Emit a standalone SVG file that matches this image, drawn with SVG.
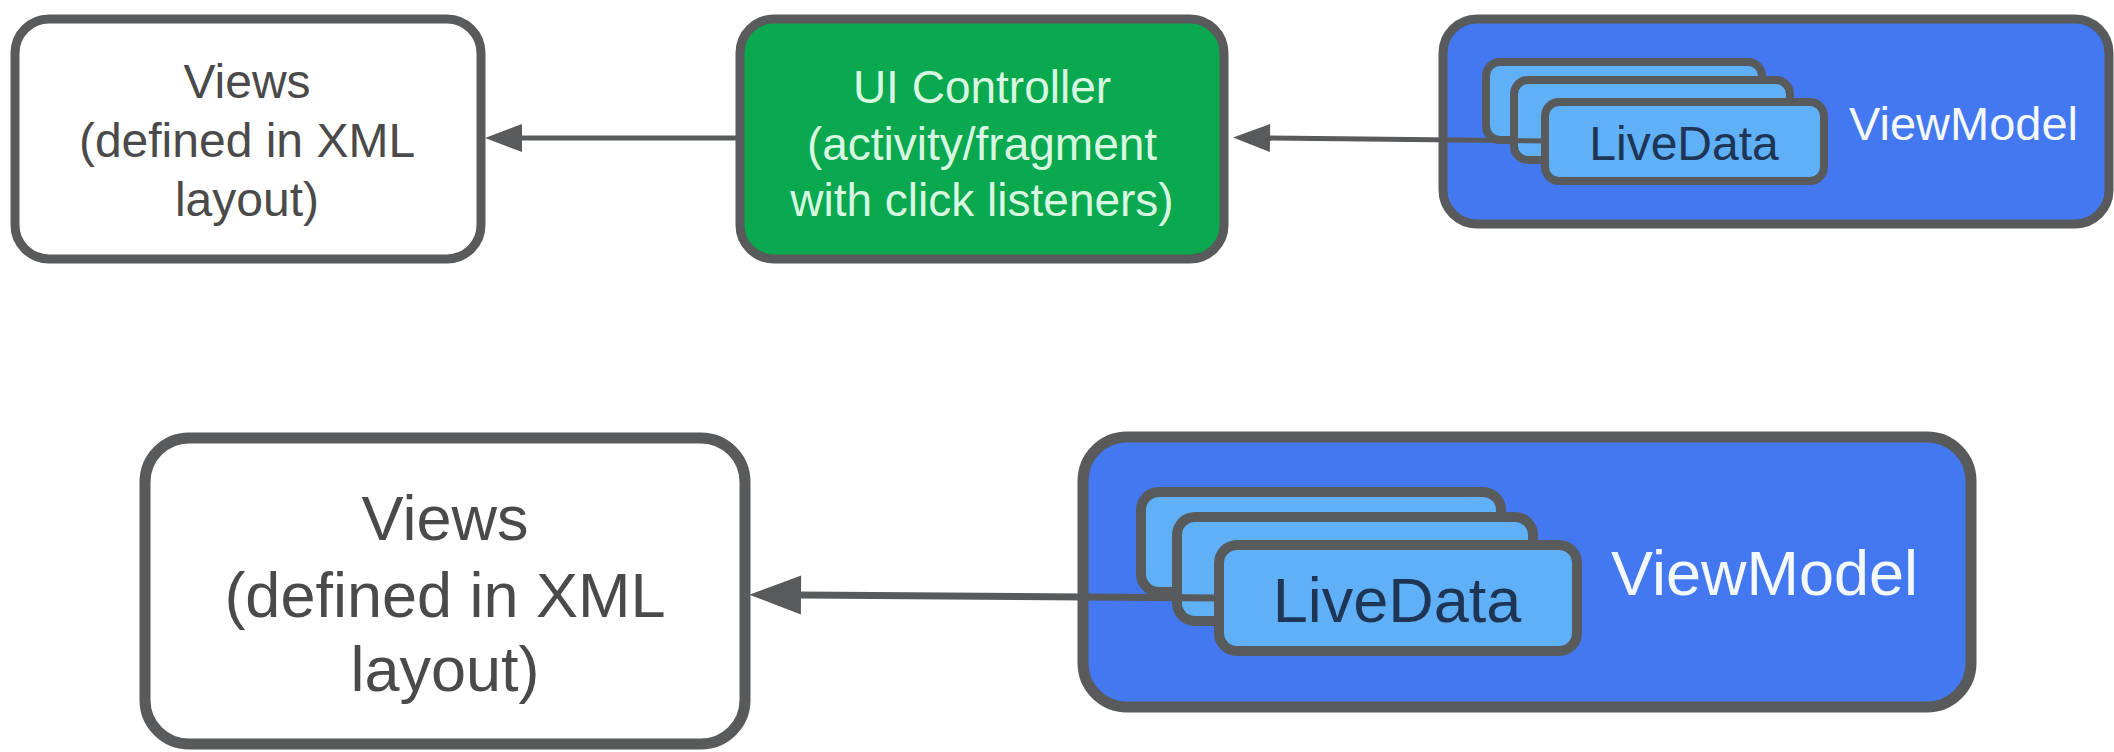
<svg xmlns="http://www.w3.org/2000/svg" width="2114" height="752" viewBox="0 0 2114 752">
  <defs>
    <style>
      .box { stroke: #595a5c; stroke-width: 9; }
      .box-lg { stroke: #595a5c; stroke-width: 11; }
      .views { fill: #ffffff; }
      .ctrl { fill: #0aa84f; }
      .vm { fill: #4378f0; }
      .card { fill: #5fb0f6; stroke: #595a5c; stroke-width: 8; }
      .card-lg { fill: #5fb0f6; stroke: #595a5c; stroke-width: 10; }
      text { font-family: "Liberation Sans", Arial, sans-serif; }
      .t-dark { fill: #4a4a4a; text-anchor: middle; }
      .t-ctrl { fill: #d8f7e0; text-anchor: middle; }
      .t-card { fill: #1e3556; text-anchor: middle; }
      .t-vm { fill: #f4f8ff; }
      .link { stroke: #595a5c; fill: none; }
    </style>
    <marker id="head" markerUnits="strokeWidth" markerWidth="7.4" markerHeight="5.6" refX="0" refY="2.8" orient="auto" overflow="visible">
      <path d="M0,0 L7.4,2.8 L0,5.6 Z" fill="#595a5c"/>
    </marker>
  </defs>

  <!-- top row -->
  <g id="views-top">
    <rect class="box views" x="15" y="19" width="466" height="240" rx="34"/>
    <text class="t-dark" font-size="48" x="247" y="98">Views</text>
    <text class="t-dark" font-size="48" x="247" y="157">(defined in XML</text>
    <text class="t-dark" font-size="48" x="247" y="216">layout)</text>
  </g>

  <g id="ui-controller">
    <rect class="box ctrl" x="740" y="19" width="484" height="240" rx="34"/>
    <text class="t-ctrl" font-size="46" x="982" y="103">UI Controller</text>
    <text class="t-ctrl" font-size="46" x="982" y="160">(activity/fragment</text>
    <text class="t-ctrl" font-size="46" x="982" y="216">with click listeners)</text>
  </g>

  <g id="viewmodel-top">
    <rect class="box vm" x="1443" y="19" width="666" height="205" rx="34"/>
    <rect class="card" x="1486" y="62" width="276" height="78" rx="14"/>
    <rect class="card" x="1514" y="80" width="276" height="80" rx="14"/>
    <text class="t-vm" font-size="47" x="1849" y="140">ViewModel</text>
  </g>

  <!-- bottom row -->
  <g id="views-bottom">
    <rect class="box-lg views" x="145" y="438" width="600" height="306" rx="44"/>
    <text class="t-dark" font-size="63" x="445" y="540">Views</text>
    <text class="t-dark" font-size="63" x="445" y="617">(defined in XML</text>
    <text class="t-dark" font-size="63" x="445" y="691">layout)</text>
  </g>

  <g id="viewmodel-bottom">
    <rect class="box-lg vm" x="1083" y="437" width="888" height="270" rx="44"/>
    <rect class="card-lg" x="1141" y="492" width="360" height="100" rx="18"/>
    <rect class="card-lg" x="1177" y="517" width="356" height="104" rx="18"/>
    <text class="t-vm" font-size="63" x="1611" y="595">ViewModel</text>
  </g>

  <!-- connectors: LiveData -> UI Controller -> Views, LiveData -> Views -->
  <g id="connectors">
    <line class="link" stroke-width="5" x1="737" y1="138" x2="522" y2="138" marker-end="url(#head)"/>
    <line class="link" stroke-width="5" x1="1546" y1="141" x2="1270" y2="138" marker-end="url(#head)"/>
    <line class="link" stroke-width="7" x1="1219" y1="598" x2="801" y2="595" marker-end="url(#head)"/>
  </g>

  <!-- front LiveData cards sit over the connector ends -->
  <g id="livedata-top">
    <rect class="card" x="1545" y="102" width="279" height="79" rx="14"/>
    <text class="t-card" font-size="48" x="1684" y="160">LiveData</text>
  </g>
  <g id="livedata-bottom">
    <rect class="card-lg" x="1219" y="545" width="358" height="106" rx="18"/>
    <text class="t-card" font-size="63" x="1397" y="622">LiveData</text>
  </g>
</svg>
